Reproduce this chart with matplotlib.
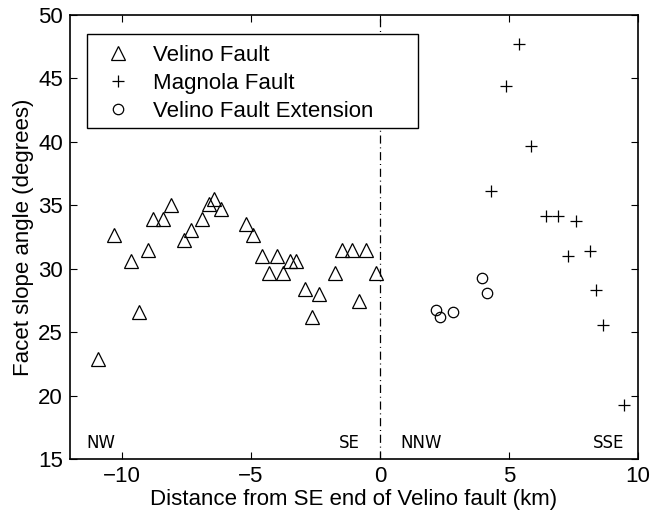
import matplotlib.pyplot as plt
from matplotlib.patches import Rectangle

plt.rcParams['font.family'] = ['Liberation Sans', 'DejaVu Sans']

# facet slope measurements along strike (km, degrees)
velino_x = [-10.90, -10.30, -9.64, -9.32, -8.99, -8.78, -8.39, -8.10, -7.58, -7.32,
            -6.88, -6.62, -6.43, -6.14, -5.20, -4.93, -4.58, -4.30, -3.98, -3.74,
            -3.46, -3.23, -2.90, -2.62, -2.35, -1.74, -1.48, -1.06, -0.81, -0.52, -0.15]
velino_y = [22.9, 32.7, 30.6, 26.6, 31.5, 33.9, 33.9, 35.0, 32.3, 33.1,
            33.9, 35.1, 35.5, 34.7, 33.5, 32.7, 31.0, 29.7, 31.0, 29.7,
            30.6, 30.6, 28.4, 26.2, 28.0, 29.7, 31.5, 31.5, 27.5, 31.5, 29.7]

magnola_x = [4.32, 4.90, 5.39, 5.85, 6.45, 6.90, 7.27, 7.59, 8.16, 8.39, 8.65, 9.46]
magnola_y = [36.1, 44.4, 47.7, 39.7, 34.2, 34.2, 31.0, 33.8, 31.4, 28.3, 25.6, 19.3]

ext_x = [2.16, 2.35, 2.84, 3.97, 4.15]
ext_y = [26.8, 26.2, 26.6, 29.3, 28.1]

fig = plt.figure(figsize=(6.52, 5.14), dpi=100)
ax = fig.add_axes([0.1074, 0.1064, 0.8711, 0.8644])

ax.plot(velino_x, velino_y, '^', ms=9.5, mfc='none', mec='black', mew=0.9, label='Velino Fault')
ax.plot(magnola_x, magnola_y, '+', ms=8, color='black', mew=0.9, label='Magnola Fault')
ax.plot(ext_x, ext_y, 'o', ms=7.5, mfc='none', mec='black', mew=0.9, label='Velino Fault Extension')

ax.axvline(0, color='black', lw=0.9, ls=(0, (6.5, 3, 0.8, 3)))

# direction labels at the base of each segment
for x, s in [(-10.8, 'NW'), (-1.2, 'SE'), (1.6, 'NNW'), (8.85, 'SSE')]:
    ax.text(x, 16.3, s, ha='center', va='center', fontsize=12, family='DejaVu Sans')

ax.set_xlim(-12, 10)
ax.set_ylim(15, 50)
ax.set_xticks([-10, -5, 0, 5, 10])
ax.set_yticks(range(15, 51, 5))
ax.tick_params(direction='in', top=True, right=True, labelsize=16, length=5, pad=5)
for sp in ax.spines.values():
    sp.set_linewidth(1.2)

ax.set_xlabel('Distance from SE end of Velino fault (km)', fontsize=16, labelpad=1)
ax.set_ylabel('Facet slope angle (degrees)', fontsize=16, labelpad=3)

# legend entries without frame, box drawn separately with wider right margin
leg = ax.legend(loc='upper left', bbox_to_anchor=(0.03, 0.948), fontsize=16,
                frameon=False, handletextpad=0.45, borderpad=0.3,
                labelspacing=0.32, handlelength=2.2, borderaxespad=0)
box = Rectangle((0.030, 0.7457), 0.583, 0.2113, transform=ax.transAxes,
                fill=True, facecolor='white', edgecolor='black', lw=1.0, zorder=4)
ax.add_patch(box)
leg.set_zorder(5)

fig.savefig('out.png', dpi=100)
